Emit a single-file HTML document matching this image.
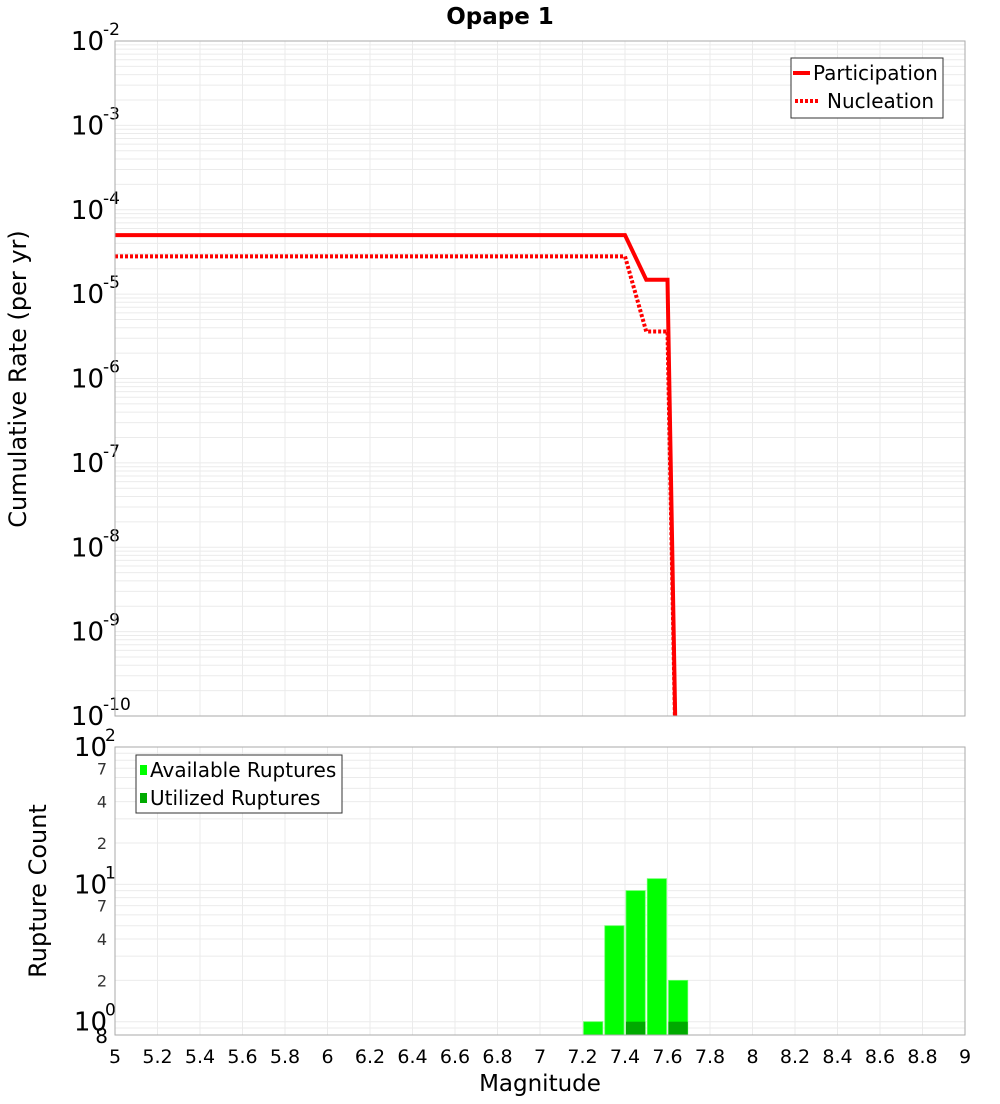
<!DOCTYPE html>
<html><head><meta charset="utf-8"><style>
body{margin:0;background:#fff;font-family:"DejaVu Sans","Liberation Sans",sans-serif}
</style></head><body>
<svg id="chart" width="1000" height="1100" xmlns="http://www.w3.org/2000/svg" font-family="DejaVu Sans, Liberation Sans, sans-serif">
<text x="500" y="24" text-anchor="middle" font-size="23" font-weight="bold">Opape 1</text>
<g id="grid"></g>
<g id="marks"></g>
<g id="axes"></g>
<text transform="translate(26,379) rotate(-90)" text-anchor="middle" font-size="24">Cumulative Rate (per yr)</text>
<text transform="translate(46,891) rotate(-90)" text-anchor="middle" font-size="24">Rupture Count</text>
<text x="540" y="1091" text-anchor="middle" font-size="23">Magnitude</text>
<g>
<rect x="791" y="58" width="152" height="60" fill="#fff" stroke="#333"/>
<line x1="793" y1="73" x2="810" y2="73" stroke="#f00" stroke-width="4"/>
<text x="813" y="80" font-size="20">Participation</text>
<line x1="795" y1="101" x2="820" y2="101" stroke="#f00" stroke-width="4" stroke-dasharray="3,2"/>
<text x="827" y="108" font-size="20">Nucleation</text>
</g>
<g>
<rect x="136" y="755" width="206" height="58" fill="#fff" stroke="#333"/>
<rect x="140" y="765" width="7" height="10" fill="#00ff00"/>
<text x="150" y="777" font-size="20">Available Ruptures</text>
<rect x="140" y="793" width="7" height="10" fill="#00aa00"/>
<text x="150" y="805" font-size="20">Utilized Ruptures</text>
</g>
</svg>
<script>
const mags=[5,7.4,7.5,7.6,7.65];
const participation=[5e-5,5e-5,1.48e-5,1.48e-5,1e-12];
const nucleation=[2.8e-5,2.8e-5,3.6e-6,3.6e-6,1e-12];
const binCenters=[7.25,7.35,7.45,7.55,7.65];
const available=[1,5,9,11,2];
const utilized=[0,0,1,0,1];
const xTicks=[5,5.2,5.4,5.6,5.8,6,6.2,6.4,6.6,6.8,7,7.2,7.4,7.6,7.8,8,8.2,8.4,8.6,8.8,9];
const topExps=[-2,-3,-4,-5,-6,-7,-8,-9,-10];
const botMinor=[2,4,7,20,40,70];

const NS="http://www.w3.org/2000/svg";
const X0=115,X1=965,T0=41,T1=716,B0=747,B1=1035;
const xs=m=>X0+(m-5)/4*(X1-X0);
const yTop=v=>T0+(-2-Math.log10(v))/8*(T1-T0);
const yBot=v=>B0+(2-Math.log10(v))/(2-Math.log10(0.8))*(B1-B0);
function mk(tag,attrs,parent){const e=document.createElementNS(NS,tag);for(const k in attrs)e.setAttribute(k,attrs[k]);parent.appendChild(e);return e;}
const grid=document.getElementById('grid'),marks=document.getElementById('marks'),axes=document.getElementById('axes');

mk('rect',{x:X0,y:T0,width:X1-X0,height:T1-T0,fill:'#fff'},grid);
xTicks.forEach(t=>{
 const l1=mk('line',{x1:xs(t),x2:xs(t),y1:T0,y2:T1,stroke:'#ebebeb'},grid);
 
 const l2=mk('line',{x1:xs(t),x2:xs(t),y1:B0,y2:B1,stroke:'#ebebeb'},grid);
 
 const tx=mk('text',{x:xs(t),y:1063,'text-anchor':'middle','font-size':19},axes);
 tx.textContent=String(t);
 
});
for(let e=-10;e<-2;e++){for(let k=1;k<10;k++){const y=yTop(k*Math.pow(10,e));
 const l=mk('line',{x1:X0,x2:X1,y1:y,y2:y,stroke:'#ebebeb'},grid);
 }}
topExps.forEach(e=>{const y=yTop(Math.pow(10,e));
 const t=mk('text',{x:104,y:y+9,'text-anchor':'end','font-size':26},axes);
 t.textContent='10';
 
 const s=mk('text',{x:103,y:y-6,'font-size':17},axes);s.textContent=String(e);
 
});
for(let e=-1;e<2;e++){for(let k=1;k<10;k++){const v=k*Math.pow(10,e);if(v<0.8)continue;const y=yBot(v);
 const l=mk('line',{x1:X0,x2:X1,y1:y,y2:y,stroke:'#ebebeb'},grid);
 }}
[0,1,2].forEach(e=>{const y=yBot(Math.pow(10,e));
 const t=mk('text',{x:107,y:y+9,'text-anchor':'end','font-size':26},axes);t.textContent='10';
 
 const s=mk('text',{x:105,y:y-6,'font-size':17},axes);s.textContent=String(e);
 
});
botMinor.forEach(v=>{const y=yBot(v);
 const t=mk('text',{x:107,y:y+6,'text-anchor':'end','font-size':16,fill:'#333'},axes);t.textContent=String(v>=10?v/10:v);
 
});
const t8=mk('text',{x:108,y:yBot(0.8)+8,'text-anchor':'end','font-size':20},axes);t8.textContent='8';


const bw=xs(5.1)-xs(5);
binCenters.forEach((c,i)=>{
 const b=mk('rect',{x:xs(c)-bw/2+1,y:yBot(available[i]),width:bw-2,height:B1-yBot(available[i]),fill:'#00ff00',stroke:'#66ff66','stroke-width':0.8},marks);
 
 if(utilized[i]>0){const u=mk('rect',{x:xs(c)-bw/2+1,y:yBot(utilized[i]),width:bw-2,height:B1-yBot(utilized[i]),fill:'#00aa00'},marks);
 }
});
const cp=mk('clipPath',{id:'cp'},marks);mk('rect',{x:X0,y:T0,width:X1-X0,height:T1-T0},cp);
const pts=arr=>mags.map((m,i)=>xs(m)+','+yTop(arr[i])).join(' ');
const n=mk('polyline',{points:pts(nucleation),fill:'none',stroke:'#f00','stroke-width':4,'stroke-dasharray':'3,2','clip-path':'url(#cp)'},marks);

const p=mk('polyline',{points:pts(participation),fill:'none',stroke:'#f00','stroke-width':4,'clip-path':'url(#cp)'},marks);

const f1=mk('rect',{x:X0,y:T0,width:X1-X0,height:T1-T0,fill:'none',stroke:'#aaa'},axes);

const f2=mk('rect',{x:X0,y:B0,width:X1-X0,height:B1-B0,fill:'none',stroke:'#aaa'},axes);

</script>
</body></html>
